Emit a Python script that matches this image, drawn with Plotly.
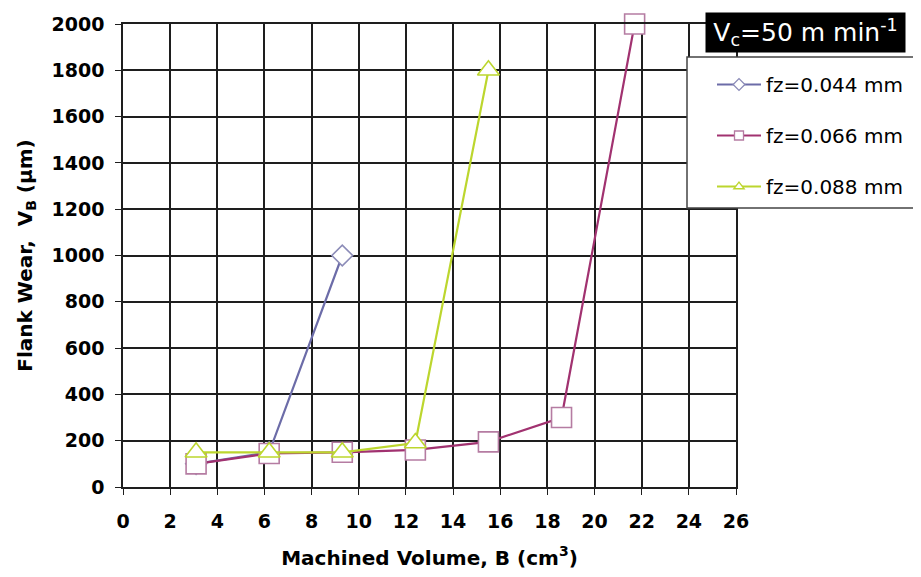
import plotly.graph_objects as go

x_044 = [3.1, 6.2, 9.3]
y_044 = [100, 150, 1000]
x_066 = [3.1, 6.2, 9.3, 12.4, 15.5, 18.6, 21.7]
y_066 = [100, 145, 150, 160, 195, 300, 2000]
x_088 = [3.1, 6.2, 9.3, 12.4, 15.5]
y_088 = [150, 150, 150, 190, 1800]
names = ["fz=0.044 mm", "fz=0.066 mm", "fz=0.088 mm"]
x_ticks = list(range(0, 27, 2))
y_ticks = list(range(0, 2001, 200))

FONT = "DejaVu Sans"
line_cols = ["#6c6ca8", "#a13270", "#bcd62e"]
mk_cols = ["#8c8cb8", "#b57ca2", "#bcd62e"]
symbols = ["diamond", "square", "triangle-up"]
sizes = [16, 20, 19]
xs = [x_044, x_066, x_088]
ys = [y_044, y_066, y_088]

fig = go.Figure()
for i in range(3):
    fig.add_trace(go.Scatter(x=xs[i], y=ys[i], name=names[i], mode="lines+markers",
                             showlegend=False, cliponaxis=False,
                             line=dict(color=line_cols[i], width=2.2),
                             marker=dict(symbol=symbols[i], size=sizes[i], color="white",
                                         line=dict(color=mk_cols[i], width=1.6))))
# legend entries (small symbols, as in the reference legend)
for i in range(3):
    fig.add_trace(go.Scatter(x=[None], y=[None], name=names[i], mode="lines+markers",
                             legendgroup=str(i),
                             line=dict(color=line_cols[i], width=2),
                             marker=dict(symbol=symbols[i], size=9, color="white",
                                         line=dict(color=mk_cols[i], width=1.3))))

axis_common = dict(showgrid=True, gridcolor="#1e1e1e", gridwidth=1.6,
                   showline=True, linecolor="#1e1e1e", linewidth=1.6, mirror=True,
                   ticks="outside", ticklen=6, tickcolor="#1e1e1e", tickwidth=1.3,
                   zeroline=False,
                   tickfont=dict(family=FONT, size=19, color="black", weight="bold"))

fig.update_xaxes(range=[0, 26], tickvals=x_ticks, ticklabelstandoff=10, **axis_common,
                 title=dict(text="Machined Volume, B (cm<sup>3</sup>)",
                            font=dict(family=FONT, size=20, color="black", weight="bold"),
                            standoff=20))
fig.update_yaxes(range=[0, 2000], tickvals=y_ticks, ticklabelstandoff=7, **axis_common,
                 title=dict(text="Flank Wear,  V<sub>B</sub> (µm)",
                            font=dict(family=FONT, size=20, color="black", weight="bold"),
                            standoff=14))

# plot area in the page window: x 123..736 px, y 24..487 px
# (the page body adds an 8 px offset, so the figure itself is 8 px smaller)
def px_x(p):
    return (p - 123) / 613.0

def px_y(p):
    return (487 - p) / 463.0

fig.update_layout(
    width=913, height=569,
    margin=dict(l=115, r=185, t=16, b=90, autoexpand=False),
    plot_bgcolor="white", paper_bgcolor="white",
    font=dict(family=FONT, color="black"),
    legend=dict(x=px_x(712), y=px_y(65), xanchor="left", yanchor="top",
                bgcolor="rgba(0,0,0,0)", borderwidth=0,
                font=dict(family=FONT, size=20, color="black"),
                itemwidth=44, tracegroupgap=22, traceorder="grouped"),
    shapes=[dict(type="rect", xref="paper", yref="paper",
                 x0=px_x(687), x1=px_x(940), y0=px_y(208), y1=px_y(57),
                 fillcolor="white", line=dict(color="#444444", width=1.5), layer="above")],
    annotations=[dict(x=px_x(805.5), y=px_y(32.5), xref="paper", yref="paper",
                      xanchor="center", yanchor="middle",
                      text="V<sub>c</sub>=50 m min<sup>-1</sup>", showarrow=False,
                      font=dict(family=FONT, size=25, color="white"),
                      bgcolor="black", borderpad=2, width=195, height=35)],
)

fig.write_html("out.html")
